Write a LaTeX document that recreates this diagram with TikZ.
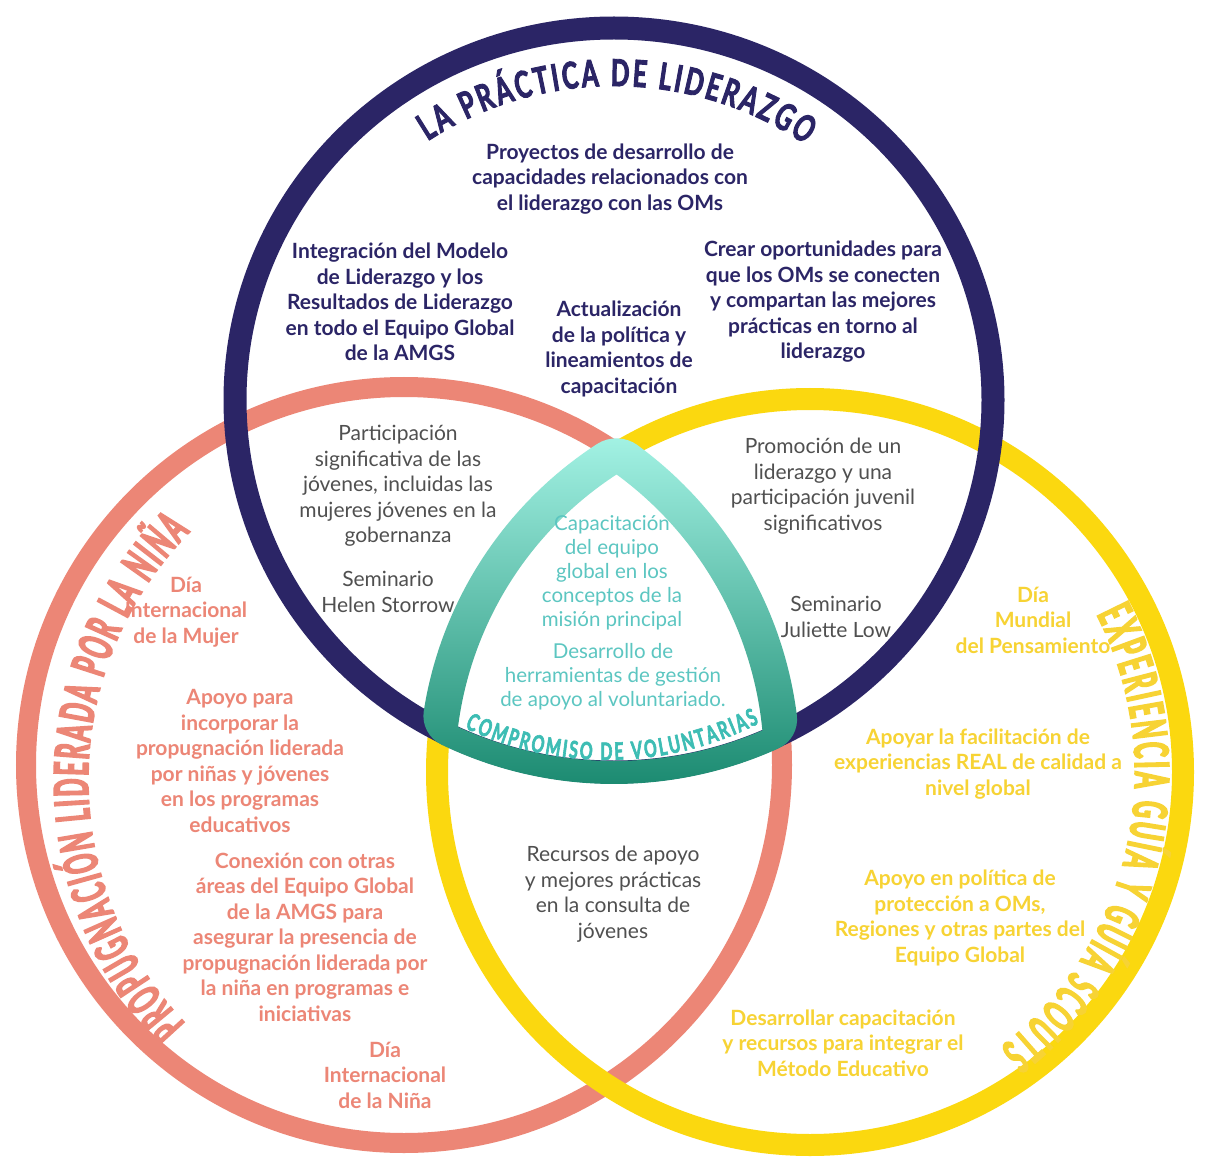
\documentclass[tikz,border=0pt]{standalone}
\usepackage{fontspec}
\setmainfont{Lato}
\newfontfamily\headfont[FakeStretch=0.66, FakeBold=2.5]{Lato}
\newfontfamily\sidefont[FakeStretch=0.5, FakeBold=3.5]{Lato}
\usetikzlibrary{decorations.text,positioning}
\definecolor{navyc}{HTML}{2B2566}
\definecolor{salmonc}{HTML}{EC8676}
\definecolor{yellowc}{HTML}{FBD80F}
\definecolor{yellowt}{HTML}{F7D334}
\definecolor{grayc}{HTML}{505050}
\definecolor{tealc}{HTML}{5CC6C1}
\definecolor{tealh}{HTML}{3DBDB4}
\definecolor{mintc}{HTML}{A3F2E4}
\definecolor{tealm}{HTML}{4DBFA5}
\definecolor{teald}{HTML}{17876D}

\begin{document}
\begin{tikzpicture}[x=1pt,y=-1pt,
    txt/.style={align=center, inner sep=0pt},
    navytxt/.style={txt, text=navyc, font=\fontsize{21}{25.5}\selectfont\bfseries},
    graytxt/.style={txt, text=grayc, font=\fontsize{21}{25.5}\selectfont},
    tealtxt/.style={txt, text=tealc, font=\fontsize{20.5}{24}\selectfont},
    salmontxt/.style={txt, text=salmonc, font=\fontsize{21}{25.5}\selectfont\bfseries},
    yellowtxt/.style={txt, text=yellowt, font=\fontsize{21}{25.5}\selectfont\bfseries},
    curved/.style={decorate, decoration={text along path, text align={fit to path}, text={#1}}}]
    \useasboundingbox[fill=white] (0,0) rectangle (1208,1158);

    \draw[salmonc, line width=20pt] (404,765) circle[radius=378];
    \draw[yellowc, line width=22pt] (810,772) circle[radius=373];
    \draw[navyc, line width=23pt] (614,400) ellipse[x radius=379, y radius=372];

    \shade[top color=mintc, middle color=tealm, bottom color=teald, even odd rule]
      ([shift={(404,765)}]-53.83:396) arc[start angle=-53.83, end angle=-7.21, radius=396]
        arc[start angle=-7.21, end angle=65.61, radius=32]
        arc[start angle=65.61, end angle=115.68, radius=398]
        arc[start angle=115.68, end angle=188.99, radius=32]
        arc[start angle=188.99, end angle=236.97, radius=391]
        arc[start angle=236.97, end angle=306.17, radius=36] -- cycle
      (616.5,474.4) arc[start angle=-53.83, end angle=-5.52, radius=360]
        arc[start angle=66.70, end angle=114.59, radius=375]
        arc[start angle=187.30, end angle=236.97, radius=355] -- cycle;

    \path[curved={|\headfont\bfseries\fontsize{37}{37}\selectfont\color{navyc}|LA PRÁCTICA DE LIDERAZGO}]
      ([shift={(614,428)}]-123:342) arc[start angle=-123, end angle=-56, radius=342];
    \path[curved={|\sidefont\bfseries\fontsize{47}{47}\selectfont\color{salmonc}|PROPUGNACIÓN LIDERADA POR LA NIÑA}]
      ([shift={(441,780)}]136.4:353) arc[start angle=136.4, end angle=224.6, radius=353];
    \path[curved={|\sidefont\bfseries\fontsize{47}{47}\selectfont\color{yellowt}|EXPERIENCIA GUÍA Y GUÍA SCOUTS}]
      ([shift={(788,773)}]-27.2:347) arc[start angle=-27.2, end angle=52.3, radius=347];
    \path[curved={|\headfont\bfseries\fontsize{24}{24}\selectfont\color{tealh}|COMPROMISO DE VOLUNTARIAS}]
      ([shift={(607,427)}]115.3:333) arc[start angle=115.3, end angle=62.8, radius=333];

    \node[navytxt] (proy) at (610,179) {Proyectos de desarrollo de\\capacidades relacionados con\\el liderazgo con las OMs};
    \node[navytxt] (integ) at (400,302) {Integración del Modelo\\de Liderazgo y los\\Resultados de Liderazgo\\en todo el Equipo Global\\de la AMGS};
    \node[navytxt] (actual) at (619,349) {Actualización\\de la política y\\lineamientos de\\capacitación};
    \node[navytxt] (crear) at (823,302) {Crear oportunidades para\\que los OMs se conecten\\y compartan las mejores\\prácticas en torno al\\liderazgo};

    \node[graytxt] (partic) at (398,486) {Participación\\significativa de las\\jóvenes, incluidas las\\mujeres jóvenes en la\\gobernanza};
    \node[graytxt] (helen) at (388,592) {Seminario\\Helen Storrow};
    \node[graytxt] (promo) at (823,486) {Promoción de un\\liderazgo y una\\participación juvenil\\significativos};
    \node[graytxt] (juliette) at (836,617) {Seminario\\Juliette Low};
    \node[graytxt] (recursos) at (613,894) {Recursos de apoyo\\y mejores prácticas\\en la consulta de\\jóvenes};

    \node[tealtxt] (capac) at (612,573) {Capacitación\\del equipo\\global en los\\conceptos de la\\misión principal};
    \node[tealtxt] (herram) at (613,677) {Desarrollo de\\herramientas de gestión\\de apoyo al voluntariado.};

    \node[salmontxt] (mujer) at (186,612) {Día\\Internacional\\de la Mujer};
    \node[salmontxt] (apoyo) at (240,761) {Apoyo para\\incorporar la\\propugnación liderada\\por niñas y jóvenes\\en los programas\\educativos};
    \node[salmontxt] (conex) at (305,937) {Conexión con otras\\áreas del Equipo Global\\de la AMGS para\\asegurar la presencia de\\propugnación liderada por\\la niña en programas e\\iniciativas};
    \node[salmontxt] (nina) at (385,1075) {Día\\Internacional\\de la Niña};

    \node[yellowtxt] (pensam) at (1033,620) {Día\\Mundial\\del Pensamiento};
    \node[yellowtxt] (apoyar) at (978,764) {Apoyar la facilitación de\\experiencias REAL de calidad a\\nivel global};
    \node[yellowtxt] (proteccion) at (960,918) {Apoyo en política de\\protección a OMs,\\Regiones y otras partes del\\Equipo Global};
    \node[yellowtxt] (metodo) at (843,1043) {Desarrollar capacitación\\y recursos para integrar el\\Método Educativo};
\end{tikzpicture}
\end{document}
